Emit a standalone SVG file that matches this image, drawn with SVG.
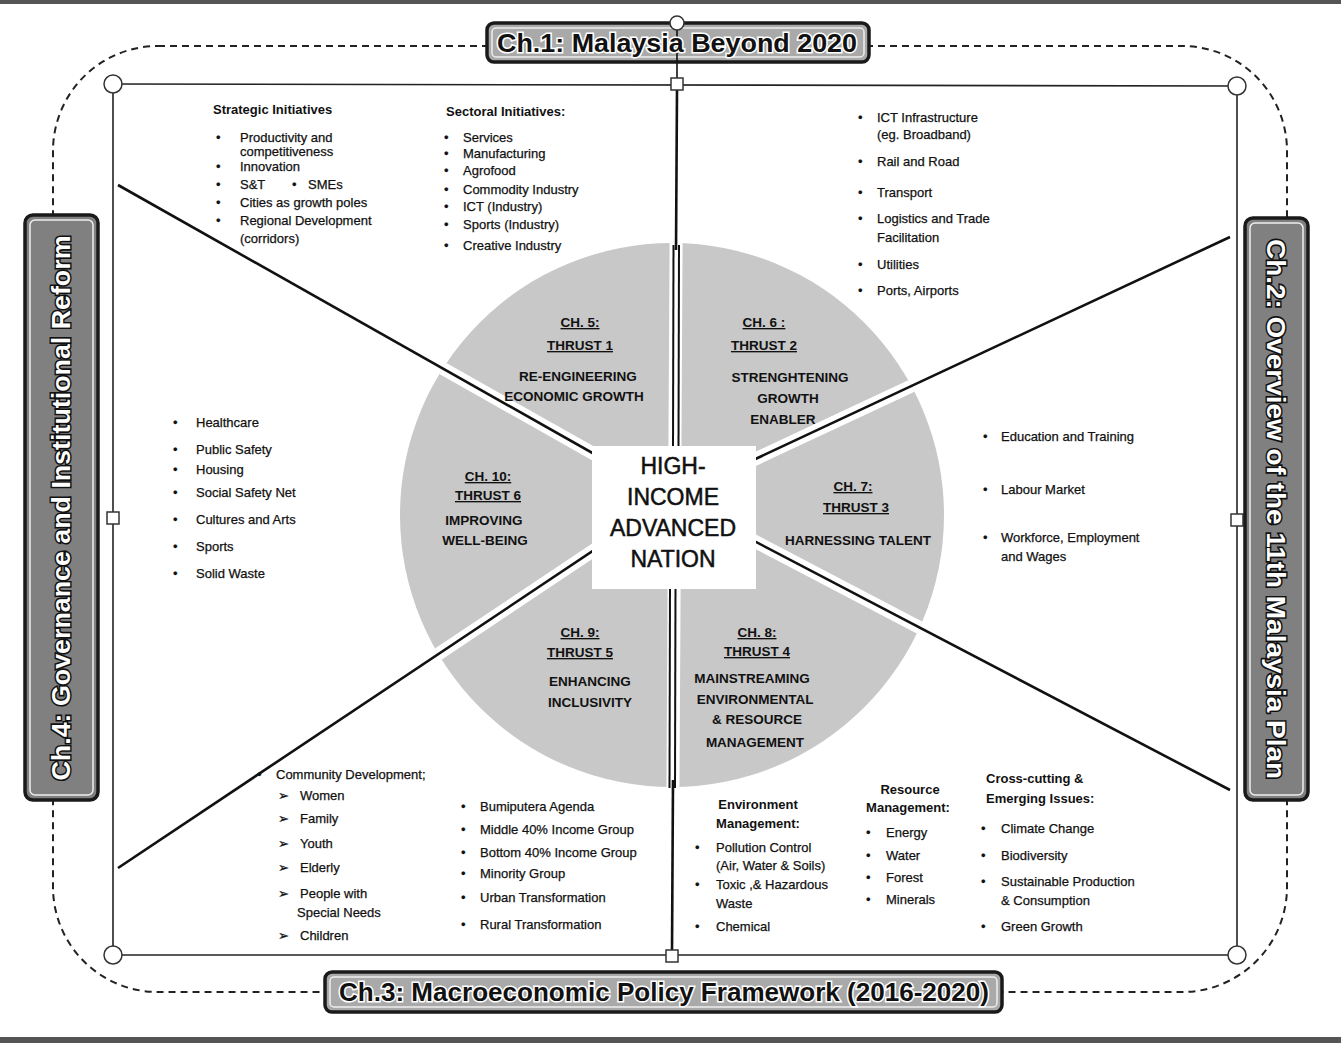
<svg xmlns="http://www.w3.org/2000/svg" width="1341" height="1043" viewBox="0 0 1341 1043">
<defs>
<style>
.tx{font-family:"Liberation Sans",Arial,sans-serif;font-size:13px;fill:#111;stroke:#111;stroke-width:0.25}
.hd{font-family:"Liberation Sans",Arial,sans-serif;font-size:13px;font-weight:bold;fill:#111}
.st{font-family:"Liberation Sans",Arial,sans-serif;font-size:13.5px;font-weight:bold;fill:#111;text-anchor:middle}
.ul{text-decoration:underline}
.ctr{font-family:"Liberation Sans",Arial,sans-serif;font-size:23px;fill:#111;stroke:#111;stroke-width:0.5;text-anchor:middle}
.bt{font-family:"Liberation Sans",Arial,sans-serif;font-size:25px;font-weight:bold;fill:#111;stroke:#fff;stroke-width:3;paint-order:stroke;text-anchor:middle}
.bw{font-family:"Liberation Sans",Arial,sans-serif;font-size:25px;font-weight:bold;fill:#fff;stroke:#111;stroke-width:3;paint-order:stroke;text-anchor:middle}
.ban{fill:#a9a9a9;stroke:#1a1a1a;stroke-width:3.5}
.bans{fill:#808080;stroke:#1a1a1a;stroke-width:3.5}
.inner{fill:none;stroke:#eee;stroke-width:1.5}
.frm{stroke:#222;stroke-width:1.6;fill:none}
.hnd{fill:#fff;stroke:#333;stroke-width:1.5}
.ln{stroke:#111;stroke-width:2.6;fill:none}
.gap{stroke:#fff;stroke-width:13;fill:none}
</style>
<clipPath id="circ"><circle cx="672" cy="515" r="272"/></clipPath>
</defs>
<rect width="1341" height="1043" fill="#fff"/>
<rect x="0" y="0" width="1341" height="4" fill="#555"/>
<rect x="0" y="1037" width="1341" height="6" fill="#555"/>

<g id="frame">
<path d="M158 46 H1182 A105 105 0 0 1 1287 151 V887 A105 105 0 0 1 1182 992 H158 A105 105 0 0 1 53 887 V151 A105 105 0 0 1 158 46 Z" fill="none" stroke="#222" stroke-width="2" stroke-dasharray="7 5"/>
<line class="frm" x1="113" y1="84" x2="1237" y2="86"/>
<line class="frm" x1="113" y1="84" x2="113" y2="955"/>
<line class="frm" x1="1237" y1="86" x2="1237" y2="955"/>
<line class="frm" x1="113" y1="955" x2="1237" y2="955"/>
</g>

<g id="hub">
<circle cx="672" cy="515" r="272" fill="#c8c8c8"/>
<g clip-path="url(#circ)">
<line class="gap" x1="677" y1="84" x2="672" y2="955"/>
<line class="gap" x1="672" y1="498" x2="118" y2="185"/>
<line class="gap" x1="672" y1="498" x2="118" y2="868"/>
<line class="gap" x1="672" y1="498" x2="1230" y2="237"/>
<line class="gap" x1="672" y1="498" x2="1230" y2="790"/>
</g>
</g>

<g id="connectors">
<line class="ln" x1="677" y1="23" x2="677" y2="84" style="stroke-width:1.6"/>
<line class="ln" x1="677" y1="90" x2="676" y2="250"/>
<line class="ln" x1="673" y1="780" x2="672" y2="951"/>
<line stroke="#111" stroke-width="2" x1="673.5" y1="245" x2="673" y2="450"/>
<line stroke="#111" stroke-width="2" x1="679" y1="245" x2="678.5" y2="450"/>
<line stroke="#111" stroke-width="2" x1="670" y1="585" x2="669.5" y2="788"/>
<line stroke="#111" stroke-width="2" x1="675.5" y1="585" x2="675" y2="788"/>
<line class="ln" x1="672" y1="498" x2="118" y2="185"/>
<line class="ln" x1="672" y1="498" x2="118" y2="868"/>
<line class="ln" x1="672" y1="498" x2="1230" y2="237"/>
<line class="ln" x1="672" y1="498" x2="1230" y2="790"/>
</g>

<g id="handles">
<circle class="hnd" cx="113" cy="84" r="9"/>
<circle class="hnd" cx="1237" cy="86" r="9"/>
<circle class="hnd" cx="113" cy="955" r="9"/>
<circle class="hnd" cx="1237" cy="955" r="9"/>
<rect class="hnd" x="671" y="78" width="12" height="12"/>
<rect class="hnd" x="107" y="512" width="12" height="12"/>
<rect class="hnd" x="1231" y="514" width="12" height="12"/>
<rect class="hnd" x="666" y="950" width="12" height="12"/>
</g>

<g id="center">
<rect x="592" y="446" width="164" height="143" fill="#fff"/>
<text class="ctr" x="673" y="474">HIGH-</text>
<text class="ctr" x="673" y="505">INCOME</text>
<text class="ctr" x="673" y="536">ADVANCED</text>
<text class="ctr" x="673" y="567">NATION</text>
</g>

<g id="thrust1">
<text class="st ul" x="580" y="327">CH. 5:</text>
<text class="st ul" x="580" y="350">THRUST 1</text>
<text class="st" x="578" y="381">RE-ENGINEERING</text>
<text class="st" x="574" y="401">ECONOMIC GROWTH</text>
</g>
<g id="thrust2">
<text class="st ul" x="764" y="327">CH. 6 :</text>
<text class="st ul" x="764" y="350">THRUST 2</text>
<text class="st" x="790" y="382">STRENGHTENING</text>
<text class="st" x="788" y="403">GROWTH</text>
<text class="st" x="783" y="424">ENABLER</text>
</g>
<g id="thrust3">
<text class="st ul" x="853" y="491">CH. 7:</text>
<text class="st ul" x="856" y="512">THRUST 3</text>
<text class="st" x="858" y="545">HARNESSING TALENT</text>
</g>
<g id="thrust4">
<text class="st ul" x="757" y="637">CH. 8:</text>
<text class="st ul" x="757" y="656">THRUST 4</text>
<text class="st" x="752" y="683">MAINSTREAMING</text>
<text class="st" x="755" y="704">ENVIRONMENTAL</text>
<text class="st" x="757" y="724">&amp; RESOURCE</text>
<text class="st" x="755" y="747">MANAGEMENT</text>
</g>
<g id="thrust5">
<text class="st ul" x="580" y="637">CH. 9:</text>
<text class="st ul" x="580" y="657">THRUST 5</text>
<text class="st" x="590" y="686">ENHANCING</text>
<text class="st" x="590" y="707">INCLUSIVITY</text>
</g>
<g id="thrust6">
<text class="st ul" x="488" y="481">CH. 10:</text>
<text class="st ul" x="488" y="500">THRUST 6</text>
<text class="st" x="484" y="525">IMPROVING</text>
<text class="st" x="485" y="545">WELL-BEING</text>
</g>

<g id="strategic">
<text class="hd" x="213" y="114">Strategic Initiatives</text>
<text class="tx" x="216" y="142">•</text><text class="tx" x="240" y="142">Productivity and</text>
<text class="tx" x="240" y="156">competitiveness</text>
<text class="tx" x="216" y="171">•</text><text class="tx" x="240" y="171">Innovation</text>
<text class="tx" x="216" y="189">•</text><text class="tx" x="240" y="189">S&amp;T</text>
<text class="tx" x="292" y="189">•</text><text class="tx" x="308" y="189">SMEs</text>
<text class="tx" x="216" y="207">•</text><text class="tx" x="240" y="207">Cities as growth poles</text>
<text class="tx" x="216" y="225">•</text><text class="tx" x="240" y="225">Regional Development</text>
<text class="tx" x="240" y="243">(corridors)</text>
</g>

<g id="sectoral">
<text class="hd" x="446" y="116">Sectoral Initiatives:</text>
<text class="tx" x="444" y="142">•</text><text class="tx" x="463" y="142">Services</text>
<text class="tx" x="444" y="158">•</text><text class="tx" x="463" y="158">Manufacturing</text>
<text class="tx" x="444" y="175">•</text><text class="tx" x="463" y="175">Agrofood</text>
<text class="tx" x="444" y="194">•</text><text class="tx" x="463" y="194">Commodity Industry</text>
<text class="tx" x="444" y="211">•</text><text class="tx" x="463" y="211">ICT (Industry)</text>
<text class="tx" x="444" y="229">•</text><text class="tx" x="463" y="229">Sports (Industry)</text>
<text class="tx" x="444" y="250">•</text><text class="tx" x="463" y="250">Creative Industry</text>
</g>

<g id="enablers">
<text class="tx" x="858" y="122">•</text><text class="tx" x="877" y="122">ICT Infrastructure</text>
<text class="tx" x="877" y="139">(eg. Broadband)</text>
<text class="tx" x="858" y="166">•</text><text class="tx" x="877" y="166">Rail and Road</text>
<text class="tx" x="858" y="197">•</text><text class="tx" x="877" y="197">Transport</text>
<text class="tx" x="858" y="223">•</text><text class="tx" x="877" y="223">Logistics and Trade</text>
<text class="tx" x="877" y="242">Facilitation</text>
<text class="tx" x="858" y="269">•</text><text class="tx" x="877" y="269">Utilities</text>
<text class="tx" x="858" y="295">•</text><text class="tx" x="877" y="295">Ports, Airports</text>
</g>

<g id="wellbeing">
<text class="tx" x="173" y="427">•</text><text class="tx" x="196" y="427">Healthcare</text>
<text class="tx" x="173" y="454">•</text><text class="tx" x="196" y="454">Public Safety</text>
<text class="tx" x="173" y="474">•</text><text class="tx" x="196" y="474">Housing</text>
<text class="tx" x="173" y="497">•</text><text class="tx" x="196" y="497">Social Safety Net</text>
<text class="tx" x="173" y="524">•</text><text class="tx" x="196" y="524">Cultures and Arts</text>
<text class="tx" x="173" y="551">•</text><text class="tx" x="196" y="551">Sports</text>
<text class="tx" x="173" y="578">•</text><text class="tx" x="196" y="578">Solid Waste</text>
</g>

<g id="talent">
<text class="tx" x="983" y="441">•</text><text class="tx" x="1001" y="441">Education and Training</text>
<text class="tx" x="983" y="494">•</text><text class="tx" x="1001" y="494">Labour Market</text>
<text class="tx" x="983" y="542">•</text><text class="tx" x="1001" y="542">Workforce, Employment</text>
<text class="tx" x="1001" y="561">and Wages</text>
</g>

<g id="community">
<text class="tx" x="257" y="779">•</text><text class="tx" x="276" y="779">Community Development;</text>
<text class="tx" x="278" y="800">➢</text><text class="tx" x="300" y="800">Women</text>
<text class="tx" x="278" y="823">➢</text><text class="tx" x="300" y="823">Family</text>
<text class="tx" x="278" y="848">➢</text><text class="tx" x="300" y="848">Youth</text>
<text class="tx" x="278" y="872">➢</text><text class="tx" x="300" y="872">Elderly</text>
<text class="tx" x="278" y="898">➢</text><text class="tx" x="300" y="898">People with</text>
<text class="tx" x="297" y="917">Special Needs</text>
<text class="tx" x="278" y="940">➢</text><text class="tx" x="300" y="940">Children</text>
</g>

<g id="inclusivity">
<text class="tx" x="461" y="811">•</text><text class="tx" x="480" y="811">Bumiputera Agenda</text>
<text class="tx" x="461" y="834">•</text><text class="tx" x="480" y="834">Middle 40% Income Group</text>
<text class="tx" x="461" y="857">•</text><text class="tx" x="480" y="857">Bottom 40% Income Group</text>
<text class="tx" x="461" y="878">•</text><text class="tx" x="480" y="878">Minority Group</text>
<text class="tx" x="461" y="902">•</text><text class="tx" x="480" y="902">Urban Transformation</text>
<text class="tx" x="461" y="929">•</text><text class="tx" x="480" y="929">Rural Transformation</text>
</g>

<g id="environment">
<text class="hd" x="758" y="809" text-anchor="middle">Environment</text>
<text class="hd" x="758" y="828" text-anchor="middle">Management:</text>
<text class="tx" x="695" y="852">•</text><text class="tx" x="716" y="852">Pollution Control</text>
<text class="tx" x="716" y="870">(Air, Water &amp; Soils)</text>
<text class="tx" x="695" y="889">•</text><text class="tx" x="716" y="889">Toxic ,&amp; Hazardous</text>
<text class="tx" x="716" y="908">Waste</text>
<text class="tx" x="695" y="931">•</text><text class="tx" x="716" y="931">Chemical</text>
</g>

<g id="resource">
<text class="hd" x="910" y="794" text-anchor="middle">Resource</text>
<text class="hd" x="908" y="812" text-anchor="middle">Management:</text>
<text class="tx" x="866" y="837">•</text><text class="tx" x="886" y="837">Energy</text>
<text class="tx" x="866" y="860">•</text><text class="tx" x="886" y="860">Water</text>
<text class="tx" x="866" y="882">•</text><text class="tx" x="886" y="882">Forest</text>
<text class="tx" x="866" y="904">•</text><text class="tx" x="886" y="904">Minerals</text>
</g>

<g id="crosscutting">
<text class="hd" x="986" y="783">Cross-cutting &amp;</text>
<text class="hd" x="986" y="803">Emerging Issues:</text>
<text class="tx" x="981" y="833">•</text><text class="tx" x="1001" y="833">Climate Change</text>
<text class="tx" x="981" y="860">•</text><text class="tx" x="1001" y="860">Biodiversity</text>
<text class="tx" x="981" y="886">•</text><text class="tx" x="1001" y="886">Sustainable Production</text>
<text class="tx" x="1001" y="905">&amp; Consumption</text>
<text class="tx" x="981" y="931">•</text><text class="tx" x="1001" y="931">Green Growth</text>
</g>

<g id="ch1">
<rect class="ban" x="487" y="23" width="382" height="39" rx="7"/>
<rect class="inner" x="492" y="28" width="372" height="29" rx="4"/>
<line x1="677" y1="30" x2="677" y2="62" stroke="#111" stroke-width="1.6"/>
<text class="bt" x="677" y="52" textLength="360" lengthAdjust="spacingAndGlyphs">Ch.1: Malaysia  Beyond 2020</text>
<circle class="hnd" cx="677" cy="23" r="7"/>
</g>

<g id="ch3">
<rect class="ban" x="325" y="972" width="677" height="40" rx="7"/>
<rect class="inner" x="330" y="977" width="667" height="30" rx="4"/>
<text class="bt" x="664" y="1001" textLength="650" lengthAdjust="spacingAndGlyphs">Ch.3: Macroeconomic Policy Framework (2016-2020)</text>
</g>

<g id="ch4">
<rect class="bans" x="25" y="215" width="73" height="585" rx="8"/>
<rect class="inner" x="30" y="220" width="63" height="575" rx="5"/>
<text class="bw" transform="translate(61 508) rotate(-90)" x="0" y="9" textLength="545" lengthAdjust="spacingAndGlyphs">Ch.4: Governance and Institutional Reform</text>
</g>

<g id="ch2">
<rect class="bans" x="1245" y="218" width="63" height="582" rx="8"/>
<rect class="inner" x="1250" y="223" width="53" height="572" rx="5"/>
<text class="bw" transform="translate(1276 509) rotate(90)" x="0" y="9" textLength="540" lengthAdjust="spacingAndGlyphs">Ch.2: Overview of the 11th Malaysia Plan</text>
</g>
</svg>
